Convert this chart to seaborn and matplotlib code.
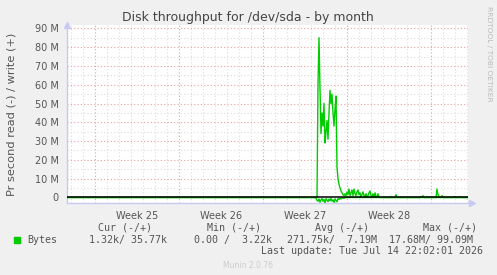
import numpy as np
import pandas as pd
import matplotlib
matplotlib.use("Agg")
import matplotlib.pyplot as plt
import seaborn as sns

# ---- data (x = 2-hour slot index from left edge of graph, values in MB/s) ----
pre_slot = [0, 248]
pre_write = [0.0, 0.0]
burst_start = 249
burst_write = [0, 0, 60, 85, 58, 34, 45, 38, 50, 29, 35, 41, 31, 45, 57, 50, 55, 45, 38, 47,
               54, 16, 10, 7, 5, 3.5, 2.5, 1.5, 1.0, 2.0, 1.0, 3.0, 1.5, 4.5, 1.0, 2.5, 4.0, 1.0,
               4.5, 2.0, 1.0, 3.0, 4.0, 1.5, 2.5, 0.5, 1.5, 3.0, 1.0, 0.5, 2.0, 0.5, 1.0, 2.5,
               3.5, 1.0, 0.5, 2.0, 0.5, 2.5, 0.3, 0.5, 2.0, 0.3, 0]
late_slot = [314, 328, 329, 330, 353, 354, 355, 356, 357, 369, 370, 371, 372, 373, 374, 375,
             376, 387, 388, 389, 392, 393, 394, 401]
late_write = [0, 0, 1.5, 0, 0, 0.5, 0, 1.0, 0, 0, 4.5, 1.5, 0.5, 0, 0, 1.0, 0, 0, 0.5, 0, 0,
              0.5, 0, 0]
burst_read = [-0.3, -1.5, -2.0, -0.8, -2.5, -1.2, -0.5, -2.0, -1.0, -2.8, -0.6, -1.5, -2.2,
              -0.8, -1.8, -0.4, -2.0, -1.2, -2.6, -0.7, -1.5, -2.3, -0.5, -1.0, -0.3, -0.8,
              -0.4, -0.2, -0.5, 0]
post_slot = [279, 401]
post_read = [0.0, 0.0]

week_labels = ["Week 25", "Week 26", "Week 27", "Week 28"]
week_mid_slot = [70, 154, 238, 322]
week_edge_slot = [28, 112, 196, 280, 364]
y_ticks = [0, 10, 20, 30, 40, 50, 60, 70, 80, 90]
y_ticklabels = ["0", "10 M", "20 M", "30 M", "40 M", "50 M", "60 M", "70 M", "80 M", "90 M"]

legend_headers = ["Cur (-/+)", "Min (-/+)", "Avg (-/+)", "Max (-/+)"]
legend_values = ["1.32k/ 35.77k", "0.00 /  3.22k", "271.75k/  7.19M", "17.68M/ 99.09M"]

# ---- build frames ----
w_slot = pre_slot + list(range(burst_start, burst_start + len(burst_write))) + late_slot
w_val = pre_write + burst_write + late_write
r_slot = pre_slot + list(range(burst_start, burst_start + len(burst_read))) + post_slot
r_val = pre_write + burst_read + post_read
df_w = pd.DataFrame({"slot": w_slot, "val": w_val})
df_r = pd.DataFrame({"slot": r_slot, "val": r_val})

sns.set_style("white")
plt.rcParams["font.family"] = ["DejaVu Sans"]

W, H = 497, 275
fig = plt.figure(figsize=(W / 100, H / 100), dpi=100, facecolor="#F0F0F0")
ax = fig.add_axes([67 / W, 1 - 203 / H, (468 - 67) / W, (203 - 25) / H])
ax.set_facecolor("white")

green = "#00CC00"
txt = "#555555"

# grid
for s in range(4, 402, 12):
    if s in week_edge_slot:
        continue
    ax.axvline(s, color="#DDDDDD", lw=0.8, ls=(0, (1, 2)), zorder=1)
for m in range(5, 91, 10):
    ax.axhline(m, color="#DDDDDD", lw=0.8, ls=(0, (1, 2)), zorder=1)
for s in week_edge_slot:
    ax.axvline(s, color="#EBA0A0", lw=0.8, ls=(0, (1, 2)), zorder=1.5)
for m in y_ticks[1:]:
    ax.axhline(m, color="#EBA0A0", lw=0.8, ls=(0, (1, 2)), zorder=1.5)

sns.lineplot(data=df_w, x="slot", y="val", ax=ax, color=green, lw=1.0, zorder=3)
sns.lineplot(data=df_r, x="slot", y="val", ax=ax, color=green, lw=1.0, zorder=3)
ax.axhline(0, color="black", lw=1.1, zorder=4)

ax.set_xlim(0, 401)
ax.set_ylim(-2.93, 91.76)
ax.set_xticks(week_mid_slot)
ax.set_xticklabels(week_labels)
ax.set_yticks(y_ticks)
ax.set_yticklabels(y_ticklabels)
ax.tick_params(length=0, labelsize=7, colors=txt, pad=6)
ax.set_xlabel("")
ax.set_ylabel("Pr second read (-) / write (+)", fontsize=8.2, color=txt)
ax.yaxis.set_label_coords((16 - 67) / 401, 0.5)

for side in ["top", "right"]:
    ax.spines[side].set_visible(False)
for side in ["left", "bottom"]:
    ax.spines[side].set_color("#C8C8F0")
    ax.spines[side].set_linewidth(1.0)
ax.plot([0], [1], marker="^", color="#C8C8F0", ms=5, transform=ax.transAxes, clip_on=False)
ax.plot([1.01], [0], marker=">", color="#C8C8F0", ms=5, transform=ax.transAxes, clip_on=False)

fig.text(248 / W, 1 - 18 / H, "Disk throughput for /dev/sda - by month", ha="center",
         va="center", fontsize=9, color="#444444")
fig.text(489 / W, 1 - 54 / H, "RRDTOOL / TOBI OETIKER", rotation=270, ha="center",
         va="center", fontsize=5.4, color="#BBBBBB")

mono = "DejaVu Sans Mono"
hx = [98, 207, 315, 423]
for x, t in zip(hx, legend_headers):
    fig.text(x / W, 1 - 228 / H, t, ha="left", va="center", family=mono, fontsize=7.2, color=txt)
vx = [89, 194, 287, 389]
for x, t in zip(vx, legend_values):
    fig.text(x / W, 1 - 240 / H, t, ha="left", va="center", family=mono, fontsize=7.2, color=txt)
fig.patches.append(plt.Rectangle((14 / W, 1 - 243 / H), 6 / W, 6 / H, transform=fig.transFigure,
                                 color=green, figure=fig))
fig.text(27 / W, 1 - 240 / H, "Bytes", ha="left", va="center", family=mono, fontsize=7.2, color=txt)
fig.text(483 / W, 1 - 251 / H, "Last update: Tue Jul 14 22:02:01 2026", ha="right", va="center",
         family=mono, fontsize=7.2, color=txt)
fig.text(248 / W, 1 - 265 / H, "Munin 2.0.76", ha="center", va="center", fontsize=5.5,
         color="#CCCCCC")

fig.savefig("out.png", dpi=100, facecolor=fig.get_facecolor())
